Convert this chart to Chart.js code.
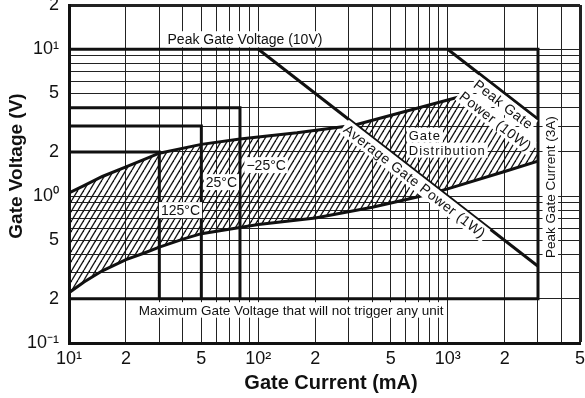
<!DOCTYPE html>
<html>
<head>
<meta charset="utf-8">
<script src="https://cdn.jsdelivr.net/npm/chart.js@4.4.1/dist/chart.umd.min.js"></script>
<style>
  html, body { margin: 0; padding: 0; background: #fff; }
  #wrap { width: 585px; height: 398px; }
</style>
</head>
<body>
<div id="wrap"><canvas id="grafico" width="585" height="398"></canvas></div>
<script>
// ===== DADOS =====
const xGrid = [10, 20, 30, 40, 50, 60, 70, 80, 90, 100, 200, 300, 400, 500, 600, 700, 800, 900, 1000, 2000, 3000, 4000, 5000];
const xTickValues = [10, 20, 50, 100, 200, 500, 1000, 2000, 5000];
const xTickLabels = ["10¹", "2", "5", "10²", "2", "5", "10³", "2", "5"];
const yGrid = [0.1, 0.2, 0.3, 0.4, 0.5, 0.6, 0.7, 0.8, 0.9, 1, 2, 3, 4, 5, 6, 7, 8, 9, 10, 20];
const yTickValues = [0.1, 0.2, 0.5, 1, 2, 5, 10, 20];
const yTickLabels = ["10⁻¹", "2", "5", "10⁰", "2", "5", "10¹", "2"];

// gate distribution (mA, V)
const upperCurrent = [10, 12, 15, 20, 25, 30, 50, 80, 160, 320, 1240];
const upperVoltage = [1.05, 1.18, 1.36, 1.58, 1.78, 1.96, 2.25, 2.45, 2.7, 3.04, 4.86];
const lowerCurrent = [10, 12, 15, 20, 25, 30, 40, 50, 100, 200, 400, 700, 1000, 2000, 3000];
const lowerVoltage = [0.22, 0.26, 0.31, 0.37, 0.41, 0.45, 0.51, 0.555, 0.64, 0.71, 0.84, 0.99, 1.12, 1.47, 1.73];
const edgeCurrent = [3000];
const edgeVoltage = [2.06];

// limites
const limitCurrent = [10, 3000, 3000, 10];
const limitVoltage = [10, 10, 0.2, 0.2];
const box125Current = [10, 30, 30];
const box125Voltage = [2, 2, 0.2];
const box25Current = [10, 50, 50];
const box25Voltage = [3, 3, 0.2];
const boxM25Current = [10, 80, 80];
const boxM25Voltage = [4, 4, 0.2];
const peakPowerCurrent = [1000, 3000];
const peakPowerVoltage = [10, 3.333];
const avgPowerCurrent = [100, 3000];
const avgPowerVoltage = [10, 0.3333];

const FONTE = "'Liberation Sans', Arial, Helvetica, sans-serif";

function pontos(xs, ys) {
  return xs.map((v, i) => ({ x: v, y: ys[i] }));
}

function rotulo(valores, textos, v) {
  const i = valores.findIndex(t => Math.abs(t - v) / t < 1e-6);
  return i >= 0 ? textos[i] : "";
}

function hachura() {
  const c = document.createElement("canvas");
  c.width = 6;
  c.height = 10;
  const g = c.getContext("2d");
  g.strokeStyle = "#111";
  g.lineWidth = 1.3;
  for (const k of [-1, 0, 1]) {
    g.beginPath();
    g.moveTo(k * 6, 10);
    g.lineTo(k * 6 + 6, 0);
    g.stroke();
  }
  return g.createPattern(c, "repeat");
}

function caixa(ctx, texto, cx, cy, rot, tam, alinhar, esp) {
  ctx.save();
  ctx.translate(cx, cy);
  ctx.rotate(rot);
  ctx.font = tam + "px " + FONTE;
  ctx.letterSpacing = esp || "0px";
  const w = ctx.measureText(texto).width;
  const x0 = alinhar === "left" ? 0 : -w / 2;
  ctx.fillStyle = "#fff";
  ctx.fillRect(x0 - 2, -tam / 2 - 1, w + 4, tam + 2);
  ctx.fillStyle = "#111";
  ctx.textAlign = "left";
  ctx.textBaseline = "middle";
  ctx.fillText(texto, x0, 1);
  ctx.restore();
}

// ===== ANOTAÇÕES =====
const anotacoes = {
  id: "anotacoes",
  afterDatasetsDraw(chart) {
    const { ctx, scales: { x, y } } = chart;
    const px = v => x.getPixelForValue(v);
    const py = v => y.getPixelForValue(v);
    const ang = Math.atan2(py(avgPowerVoltage[1]) - py(avgPowerVoltage[0]), px(avgPowerCurrent[1]) - px(avgPowerCurrent[0]));

    caixa(ctx, "Peak Gate Voltage (10V)", px(85), py(11.7), 0, 14);
    caixa(ctx, "Maximum Gate Voltage that will not trigger any unit", px(149), py(0.168), 0, 13.5);
    caixa(ctx, "125°C", px(38.8), py(0.803), 0, 14);
    caixa(ctx, "25°C", px(63.8), py(1.245), 0, 14);
    caixa(ctx, "\u221225°C", px(110), py(1.625), 0, 14);
    caixa(ctx, "Gate", px(623), py(2.6), 0, 13, "left", "1px");
    caixa(ctx, "Distribution", px(623), py(2.055), 0, 13, "left", "1px");
    caixa(ctx, "Average Gate Power (1W)", px(670), py(1.265), ang, 14, "center", "0.5px");
    caixa(ctx, "Peak Gate", px(1972), py(4.22), ang, 14, "center", "0.5px");
    caixa(ctx, "Power (10W)", px(1791), py(3.24), ang, 14, "center", "0.5px");
    caixa(ctx, "Peak Gate Current (3A)", px(3484), py(1.15), -Math.PI / 2, 13.5);
  },
  afterDraw(chart) {
    const { ctx } = chart;
    ctx.save();
    ctx.fillStyle = "#111";
    ctx.textAlign = "center";
    ctx.textBaseline = "middle";
    ctx.font = "bold 20px " + FONTE;
    ctx.fillText("Gate Current (mA)", 331, 383);
    ctx.translate(17, 166);
    ctx.rotate(-Math.PI / 2);
    ctx.font = "bold 19px " + FONTE;
    ctx.fillText("Gate Voltage (V)", 0, 0);
    ctx.restore();
  }
};

// ===== GRÁFICO =====
const padrao = hachura();
const traco = { borderColor: "#111", borderWidth: 3, pointRadius: 0, fill: false, tension: 0 };

new Chart(document.getElementById("grafico").getContext("2d"), {
  type: "line",
  data: {
    datasets: [
      { data: pontos(upperCurrent.concat(edgeCurrent), upperVoltage.concat(edgeVoltage)), borderWidth: 0, borderColor: "transparent", pointRadius: 0, backgroundColor: padrao, fill: 1, tension: 0 },
      { ...traco, data: pontos(lowerCurrent, lowerVoltage) },
      { ...traco, data: pontos(upperCurrent, upperVoltage) },
      { ...traco, data: pontos(limitCurrent, limitVoltage) },
      { ...traco, data: pontos(box125Current, box125Voltage) },
      { ...traco, data: pontos(box25Current, box25Voltage) },
      { ...traco, data: pontos(boxM25Current, boxM25Voltage) },
      { ...traco, data: pontos(peakPowerCurrent, peakPowerVoltage) },
      { ...traco, data: pontos(avgPowerCurrent, avgPowerVoltage) },
    ]
  },
  options: {
    responsive: false,
    animation: false,
    devicePixelRatio: 1,
    layout: { padding: 0 },
    plugins: { legend: { display: false }, tooltip: { enabled: false } },
    scales: {
      x: {
        type: "logarithmic",
        min: 10,
        max: 5000,
        afterBuildTicks: s => { s.ticks = xGrid.map(v => ({ value: v })); },
        afterFit: s => { s.height = 55; s.paddingLeft = 0; s.paddingRight = 5; },
        ticks: {
          autoSkip: false, maxRotation: 0, minRotation: 0, padding: 5,
          color: "#111", font: { family: FONTE, size: 18 },
          callback: v => rotulo(xTickValues, xTickLabels, v),
        },
        grid: {
          color: "#222", drawTicks: false,
          lineWidth: c => (c.tick && c.tick.value === 5000 ? 3 : 1),
        },
        border: { color: "#111", width: 3 },
      },
      y: {
        type: "logarithmic",
        min: 0.1,
        max: 20,
        afterBuildTicks: s => { s.ticks = yGrid.map(v => ({ value: v })); },
        afterFit: s => { s.width = 69; s.paddingTop = 5; s.paddingBottom = 0; },
        ticks: {
          autoSkip: false, padding: 10,
          color: "#111", font: { family: FONTE, size: 18 },
          callback: v => rotulo(yTickValues, yTickLabels, v),
        },
        grid: {
          color: "#222", drawTicks: false,
          lineWidth: c => (c.tick && c.tick.value === 20 ? 3 : 1),
        },
        border: { color: "#111", width: 3 },
      },
    },
  },
  plugins: [anotacoes],
});
</script>
</body>
</html>
